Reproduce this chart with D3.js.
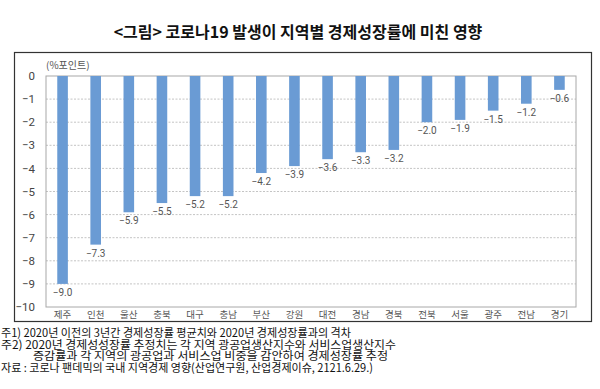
<!DOCTYPE html>
<html>
<head>
<meta charset="utf-8">
<script src="https://cdn.jsdelivr.net/npm/d3@7"></script>
<style>
  body { margin: 0; background: #fff; }
  svg { display: block; font-family: "Noto Sans CJK KR", "Noto Sans", sans-serif; }
</style>
</head>
<body>
<svg id="chart" width="600" height="389"></svg>
<script>
// regions, ordered as in the figure
var regions = ["제주", "인천", "울산", "충북", "대구", "충남", "부산", "강원", "대전", "경남", "경북", "전북", "서울", "광주", "전남", "경기"];
var growthGap = [-9.0, -7.3, -5.9, -5.5, -5.2, -5.2, -4.2, -3.9, -3.6, -3.3, -3.2, -2.0, -1.9, -1.5, -1.2, -0.6];
var yTicks = [0, -1, -2, -3, -4, -5, -6, -7, -8, -9, -10];

var title = "<그림> 코로나19 발생이 지역별 경제성장률에 미친 영향";
var unitLabel = "(%포인트)";
var notes = [
  "주1) 2020년 이전의 3년간 경제성장률 평균치와 2020년 경제성장률과의 격차",
  "주2) 2020년 경제성성장률 추정치는 각 지역 광공업생산지수와 서비스업생산지수",
  "증감률과 각 지역의 광공업과 서비스업 비중을 감안하여 경제성장률 추정",
  "자료 : 코로나 팬데믹의 국내 지역경제 영향(산업연구원, 산업경제이슈, 2121.6.29.)"
];

var svg = d3.select("#chart");

var plot = { left: 46, right: 576, top: 76, bottom: 307 };

var x = d3.scaleBand()
  .domain(regions)
  .range([plot.left, plot.right])
  .paddingInner(0.68)
  .paddingOuter(0.34);

var y = d3.scaleLinear()
  .domain([0, -10])
  .range([plot.top, plot.bottom]);

// title
svg.append("text")
  .attr("x", 298)
  .attr("y", 38)
  .attr("text-anchor", "middle")
  .attr("font-size", 16)
  .attr("font-weight", "bold")
  .attr("fill", "#111")
  .text(title);

// outer frame
svg.append("rect")
  .attr("x", 14.5).attr("y", 52.5)
  .attr("width", 577).attr("height", 269)
  .attr("fill", "none")
  .attr("stroke", "#333")
  .attr("stroke-width", 1.2);

// grid lines
svg.append("g")
  .selectAll("line")
  .data(yTicks.filter(function(d) { return d !== 0 && d !== -10; }))
  .enter().append("line")
  .attr("x1", plot.left).attr("x2", plot.right)
  .attr("y1", function(d) { return y(d); })
  .attr("y2", function(d) { return y(d); })
  .attr("stroke", "#c4c4c4")
  .attr("stroke-dasharray", "2,1.5");

// plot border
svg.append("rect")
  .attr("x", plot.left).attr("y", plot.top)
  .attr("width", plot.right - plot.left).attr("height", plot.bottom - plot.top)
  .attr("fill", "none")
  .attr("stroke", "#a8a8a8");

// y axis labels
var yAxis = svg.append("g")
  .attr("transform", "translate(" + (plot.left - 8) + ",0)")
  .call(d3.axisLeft(y).tickValues(yTicks).tickSize(0).tickFormat(function(d) { return d === 0 ? "0" : "\u2212" + Math.abs(d); }));
yAxis.select(".domain").remove();
yAxis.selectAll("text")
  .attr("font-size", 11.5)
  .attr("fill", "#444")
  .attr("font-family", "Roboto, 'Noto Sans', sans-serif");

svg.append("text")
  .attr("x", plot.left)
  .attr("y", 69)
  .attr("font-size", 10)
  .attr("fill", "#555")
  .text(unitLabel);

// bars
svg.append("g")
  .selectAll("rect")
  .data(growthGap)
  .enter().append("rect")
  .attr("x", function(d, i) { return x(regions[i]); })
  .attr("y", y(0))
  .attr("width", x.bandwidth())
  .attr("height", function(d) { return y(d) - y(0); })
  .attr("fill", "#6a9bd4");

// value labels
svg.append("g")
  .selectAll("text")
  .data(growthGap)
  .enter().append("text")
  .attr("x", function(d, i) { return x(regions[i]) + x.bandwidth() / 2; })
  .attr("y", function(d) { return y(d) + 12; })
  .attr("text-anchor", "middle")
  .attr("font-size", 10)
  .attr("fill", "#555")
  .attr("font-family", "Roboto, 'Noto Sans', sans-serif")
  .text(function(d) { return "\u2212" + Math.abs(d).toFixed(1); });

// category labels
svg.append("g")
  .selectAll("text")
  .data(regions)
  .enter().append("text")
  .attr("x", function(d) { return x(d) + x.bandwidth() / 2; })
  .attr("y", 318)
  .attr("text-anchor", "middle")
  .attr("font-size", 9.5)
  .attr("fill", "#555")
  .text(function(d) { return d; });

// notes
var noteLengths = [350, 395, 355, 372];
svg.append("g")
  .selectAll("text")
  .data(notes)
  .enter().append("text")
  .attr("x", function(d, i) { return i === 2 ? 33 : 1; })
  .attr("y", function(d, i) { return 337 + i * 11.7; })
  .attr("font-size", 11.5)
  .attr("fill", "#111")
  .attr("textLength", function(d, i) { return noteLengths[i]; })
  .attr("lengthAdjust", "spacingAndGlyphs")
  .text(function(d) { return d; });
</script>
</body>
</html>
